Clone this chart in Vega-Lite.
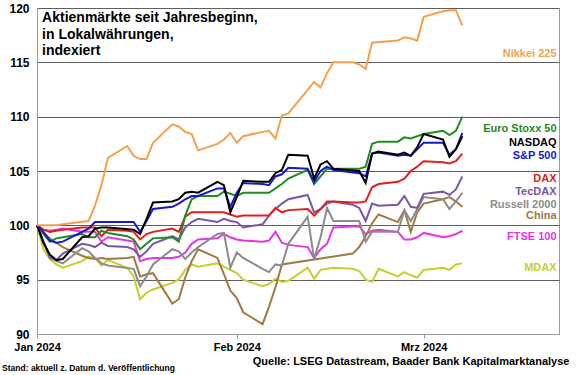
{
  "$schema": "https://vega.github.io/schema/vega-lite/v6.json",
  "width": 522,
  "height": 326,
  "autosize": {"type": "none"},
  "padding": {"left": 37, "top": 8, "right": 21, "bottom": 41},
  "background": "white",
  "config": {
    "font": "Liberation Sans",
    "view": {"stroke": "#9a9a9a", "strokeWidth": 1},
    "text": {"font": "Liberation Sans"}
  },
  "datasets": {
    "series": [
      {"index":"MDAX","date":"2024-01-01","value":100},{"index":"MDAX","date":"2024-01-02","value":97.8},{"index":"MDAX","date":"2024-01-03","value":96.9},{"index":"MDAX","date":"2024-01-04","value":96.4},{"index":"MDAX","date":"2024-01-05","value":96.1},{"index":"MDAX","date":"2024-01-08","value":96.7},{"index":"MDAX","date":"2024-01-09","value":97.1},{"index":"MDAX","date":"2024-01-10","value":97.0},{"index":"MDAX","date":"2024-01-11","value":96.3},{"index":"MDAX","date":"2024-01-12","value":96.8},{"index":"MDAX","date":"2024-01-15","value":96.1},{"index":"MDAX","date":"2024-01-16","value":95.3},{"index":"MDAX","date":"2024-01-17","value":93.2},{"index":"MDAX","date":"2024-01-18","value":93.8},{"index":"MDAX","date":"2024-01-19","value":94.1},{"index":"MDAX","date":"2024-01-22","value":94.7},{"index":"MDAX","date":"2024-01-23","value":95.0},{"index":"MDAX","date":"2024-01-24","value":95.9},{"index":"MDAX","date":"2024-01-25","value":96.4},{"index":"MDAX","date":"2024-01-26","value":96.2},{"index":"MDAX","date":"2024-01-29","value":96.5},{"index":"MDAX","date":"2024-01-30","value":96.2},{"index":"MDAX","date":"2024-01-31","value":95.9},{"index":"MDAX","date":"2024-02-01","value":95.6},{"index":"MDAX","date":"2024-02-02","value":95.0},{"index":"MDAX","date":"2024-02-05","value":94.4},{"index":"MDAX","date":"2024-02-06","value":94.6},{"index":"MDAX","date":"2024-02-07","value":95.1},{"index":"MDAX","date":"2024-02-08","value":94.8},{"index":"MDAX","date":"2024-02-09","value":94.9},{"index":"MDAX","date":"2024-02-12","value":96.1},{"index":"MDAX","date":"2024-02-13","value":95.1},{"index":"MDAX","date":"2024-02-14","value":95.9},{"index":"MDAX","date":"2024-02-15","value":96.0},{"index":"MDAX","date":"2024-02-16","value":96.1},{"index":"MDAX","date":"2024-02-19","value":96.0},{"index":"MDAX","date":"2024-02-20","value":95.8},{"index":"MDAX","date":"2024-02-21","value":95.0},{"index":"MDAX","date":"2024-02-22","value":94.8},{"index":"MDAX","date":"2024-02-23","value":96.0},{"index":"MDAX","date":"2024-02-26","value":95.3},{"index":"MDAX","date":"2024-02-27","value":95.7},{"index":"MDAX","date":"2024-02-28","value":95.4},{"index":"MDAX","date":"2024-02-29","value":95.2},{"index":"MDAX","date":"2024-03-01","value":95.9},{"index":"MDAX","date":"2024-03-04","value":96.1},{"index":"MDAX","date":"2024-03-05","value":95.9},{"index":"MDAX","date":"2024-03-06","value":96.4},{"index":"MDAX","date":"2024-03-07","value":96.5},

      {"index":"FTSE 100","date":"2024-01-01","value":100},{"index":"FTSE 100","date":"2024-01-02","value":99.6},{"index":"FTSE 100","date":"2024-01-03","value":99.5},{"index":"FTSE 100","date":"2024-01-04","value":99.6},{"index":"FTSE 100","date":"2024-01-05","value":99.7},{"index":"FTSE 100","date":"2024-01-08","value":99.4},{"index":"FTSE 100","date":"2024-01-09","value":99.4},{"index":"FTSE 100","date":"2024-01-10","value":99.4},{"index":"FTSE 100","date":"2024-01-11","value":98.5},{"index":"FTSE 100","date":"2024-01-12","value":98.9},{"index":"FTSE 100","date":"2024-01-15","value":98.6},{"index":"FTSE 100","date":"2024-01-16","value":98.5},{"index":"FTSE 100","date":"2024-01-17","value":96.7},{"index":"FTSE 100","date":"2024-01-18","value":96.9},{"index":"FTSE 100","date":"2024-01-19","value":97.0},{"index":"FTSE 100","date":"2024-01-22","value":97.0},{"index":"FTSE 100","date":"2024-01-23","value":97.1},{"index":"FTSE 100","date":"2024-01-24","value":97.5},{"index":"FTSE 100","date":"2024-01-25","value":98.3},{"index":"FTSE 100","date":"2024-01-26","value":98.7},{"index":"FTSE 100","date":"2024-01-29","value":98.8},{"index":"FTSE 100","date":"2024-01-30","value":99.2},{"index":"FTSE 100","date":"2024-01-31","value":98.9},{"index":"FTSE 100","date":"2024-02-01","value":98.7},{"index":"FTSE 100","date":"2024-02-02","value":98.6},{"index":"FTSE 100","date":"2024-02-05","value":98.5},{"index":"FTSE 100","date":"2024-02-06","value":98.6},{"index":"FTSE 100","date":"2024-02-07","value":99.4},{"index":"FTSE 100","date":"2024-02-08","value":98.4},{"index":"FTSE 100","date":"2024-02-09","value":98.2},{"index":"FTSE 100","date":"2024-02-12","value":98.0},{"index":"FTSE 100","date":"2024-02-13","value":97.0},{"index":"FTSE 100","date":"2024-02-14","value":97.8},{"index":"FTSE 100","date":"2024-02-15","value":98.3},{"index":"FTSE 100","date":"2024-02-16","value":99.8},{"index":"FTSE 100","date":"2024-02-19","value":99.9},{"index":"FTSE 100","date":"2024-02-20","value":99.9},{"index":"FTSE 100","date":"2024-02-21","value":99.2},{"index":"FTSE 100","date":"2024-02-22","value":99.5},{"index":"FTSE 100","date":"2024-02-23","value":99.6},{"index":"FTSE 100","date":"2024-02-26","value":99.4},{"index":"FTSE 100","date":"2024-02-27","value":98.7},{"index":"FTSE 100","date":"2024-02-28","value":98.7},{"index":"FTSE 100","date":"2024-02-29","value":98.9},{"index":"FTSE 100","date":"2024-03-01","value":99.3},{"index":"FTSE 100","date":"2024-03-04","value":98.9},{"index":"FTSE 100","date":"2024-03-05","value":99.0},{"index":"FTSE 100","date":"2024-03-06","value":99.2},{"index":"FTSE 100","date":"2024-03-07","value":99.5},

      {"index":"China","date":"2024-01-01","value":100},{"index":"China","date":"2024-01-02","value":99.3},{"index":"China","date":"2024-01-03","value":98.8},{"index":"China","date":"2024-01-04","value":98.4},{"index":"China","date":"2024-01-05","value":98.0},{"index":"China","date":"2024-01-08","value":97.2},{"index":"China","date":"2024-01-09","value":97.0},{"index":"China","date":"2024-01-10","value":96.9},{"index":"China","date":"2024-01-11","value":97.0},{"index":"China","date":"2024-01-12","value":96.9},{"index":"China","date":"2024-01-15","value":97.0},{"index":"China","date":"2024-01-16","value":97.1},{"index":"China","date":"2024-01-17","value":95.3},{"index":"China","date":"2024-01-18","value":95.5},{"index":"China","date":"2024-01-19","value":95.6},{"index":"China","date":"2024-01-22","value":92.8},{"index":"China","date":"2024-01-23","value":93.2},{"index":"China","date":"2024-01-24","value":95.2},{"index":"China","date":"2024-01-25","value":96.7},{"index":"China","date":"2024-01-26","value":97.8},{"index":"China","date":"2024-01-29","value":97.0},{"index":"China","date":"2024-01-30","value":95.5},{"index":"China","date":"2024-01-31","value":94.0},{"index":"China","date":"2024-02-01","value":93.3},{"index":"China","date":"2024-02-02","value":92.0},{"index":"China","date":"2024-02-05","value":90.9},{"index":"China","date":"2024-02-06","value":92.5},{"index":"China","date":"2024-02-07","value":94.3},{"index":"China","date":"2024-02-08","value":96.4},{"index":"China","date":"2024-02-19","value":97.4},{"index":"China","date":"2024-02-20","value":98.0},{"index":"China","date":"2024-02-21","value":99.0},{"index":"China","date":"2024-02-22","value":100.2},{"index":"China","date":"2024-02-23","value":101.0},{"index":"China","date":"2024-02-26","value":100.3},{"index":"China","date":"2024-02-27","value":101.4},{"index":"China","date":"2024-02-28","value":99.4},{"index":"China","date":"2024-02-29","value":101.2},{"index":"China","date":"2024-03-01","value":102.0},{"index":"China","date":"2024-03-04","value":102.4},{"index":"China","date":"2024-03-05","value":102.6},{"index":"China","date":"2024-03-06","value":102.2},{"index":"China","date":"2024-03-07","value":101.7},

      {"index":"Russell 2000","date":"2024-01-01","value":100},{"index":"Russell 2000","date":"2024-01-02","value":98.5},{"index":"Russell 2000","date":"2024-01-03","value":97.1},{"index":"Russell 2000","date":"2024-01-04","value":96.7},{"index":"Russell 2000","date":"2024-01-05","value":96.5},{"index":"Russell 2000","date":"2024-01-08","value":97.9},{"index":"Russell 2000","date":"2024-01-09","value":97.6},{"index":"Russell 2000","date":"2024-01-10","value":97.0},{"index":"Russell 2000","date":"2024-01-11","value":96.5},{"index":"Russell 2000","date":"2024-01-12","value":96.3},{"index":"Russell 2000","date":"2024-01-16","value":96.0},{"index":"Russell 2000","date":"2024-01-17","value":94.4},{"index":"Russell 2000","date":"2024-01-18","value":95.3},{"index":"Russell 2000","date":"2024-01-19","value":96.4},{"index":"Russell 2000","date":"2024-01-22","value":97.8},{"index":"Russell 2000","date":"2024-01-23","value":97.6},{"index":"Russell 2000","date":"2024-01-24","value":96.9},{"index":"Russell 2000","date":"2024-01-25","value":97.5},{"index":"Russell 2000","date":"2024-01-26","value":98.0},{"index":"Russell 2000","date":"2024-01-29","value":99.2},{"index":"Russell 2000","date":"2024-01-30","value":99.3},{"index":"Russell 2000","date":"2024-01-31","value":96.1},{"index":"Russell 2000","date":"2024-02-01","value":97.5},{"index":"Russell 2000","date":"2024-02-02","value":97.0},{"index":"Russell 2000","date":"2024-02-05","value":96.0},{"index":"Russell 2000","date":"2024-02-06","value":95.7},{"index":"Russell 2000","date":"2024-02-07","value":96.4},{"index":"Russell 2000","date":"2024-02-08","value":96.3},{"index":"Russell 2000","date":"2024-02-09","value":98.3},{"index":"Russell 2000","date":"2024-02-12","value":100.8},{"index":"Russell 2000","date":"2024-02-13","value":96.9},{"index":"Russell 2000","date":"2024-02-14","value":98.9},{"index":"Russell 2000","date":"2024-02-15","value":101.6},{"index":"Russell 2000","date":"2024-02-16","value":100.4},{"index":"Russell 2000","date":"2024-02-20","value":100.4},{"index":"Russell 2000","date":"2024-02-21","value":98.5},{"index":"Russell 2000","date":"2024-02-22","value":99.4},{"index":"Russell 2000","date":"2024-02-23","value":99.4},{"index":"Russell 2000","date":"2024-02-26","value":99.4},{"index":"Russell 2000","date":"2024-02-27","value":101.4},{"index":"Russell 2000","date":"2024-02-28","value":100.4},{"index":"Russell 2000","date":"2024-02-29","value":101.5},{"index":"Russell 2000","date":"2024-03-01","value":102.6},{"index":"Russell 2000","date":"2024-03-04","value":102.4},{"index":"Russell 2000","date":"2024-03-05","value":101.5},{"index":"Russell 2000","date":"2024-03-06","value":102.2},{"index":"Russell 2000","date":"2024-03-07","value":103.0},

      {"index":"TecDAX","date":"2024-01-01","value":100},{"index":"TecDAX","date":"2024-01-02","value":98.5},{"index":"TecDAX","date":"2024-01-03","value":97.0},{"index":"TecDAX","date":"2024-01-04","value":96.8},{"index":"TecDAX","date":"2024-01-05","value":97.4},{"index":"TecDAX","date":"2024-01-08","value":98.3},{"index":"TecDAX","date":"2024-01-09","value":98.2},{"index":"TecDAX","date":"2024-01-10","value":98.0},{"index":"TecDAX","date":"2024-01-11","value":98.4},{"index":"TecDAX","date":"2024-01-12","value":98.1},{"index":"TecDAX","date":"2024-01-15","value":98.0},{"index":"TecDAX","date":"2024-01-16","value":97.8},{"index":"TecDAX","date":"2024-01-17","value":97.1},{"index":"TecDAX","date":"2024-01-18","value":97.6},{"index":"TecDAX","date":"2024-01-19","value":98.3},{"index":"TecDAX","date":"2024-01-22","value":99.0},{"index":"TecDAX","date":"2024-01-23","value":98.7},{"index":"TecDAX","date":"2024-01-24","value":99.8},{"index":"TecDAX","date":"2024-01-25","value":100.3},{"index":"TecDAX","date":"2024-01-26","value":100.6},{"index":"TecDAX","date":"2024-01-29","value":100.3},{"index":"TecDAX","date":"2024-01-30","value":100.6},{"index":"TecDAX","date":"2024-01-31","value":100.4},{"index":"TecDAX","date":"2024-02-01","value":100.3},{"index":"TecDAX","date":"2024-02-02","value":99.8},{"index":"TecDAX","date":"2024-02-05","value":100.1},{"index":"TecDAX","date":"2024-02-06","value":100.9},{"index":"TecDAX","date":"2024-02-07","value":101.5},{"index":"TecDAX","date":"2024-02-08","value":102.0},{"index":"TecDAX","date":"2024-02-09","value":102.4},{"index":"TecDAX","date":"2024-02-12","value":102.8},{"index":"TecDAX","date":"2024-02-13","value":101.2},{"index":"TecDAX","date":"2024-02-14","value":101.5},{"index":"TecDAX","date":"2024-02-15","value":102.0},{"index":"TecDAX","date":"2024-02-16","value":102.2},{"index":"TecDAX","date":"2024-02-19","value":101.9},{"index":"TecDAX","date":"2024-02-20","value":101.6},{"index":"TecDAX","date":"2024-02-21","value":100.4},{"index":"TecDAX","date":"2024-02-22","value":102.0},{"index":"TecDAX","date":"2024-02-23","value":101.8},{"index":"TecDAX","date":"2024-02-26","value":101.9},{"index":"TecDAX","date":"2024-02-27","value":102.7},{"index":"TecDAX","date":"2024-02-28","value":101.7},{"index":"TecDAX","date":"2024-02-29","value":101.6},{"index":"TecDAX","date":"2024-03-01","value":102.9},{"index":"TecDAX","date":"2024-03-04","value":103.1},{"index":"TecDAX","date":"2024-03-05","value":102.8},{"index":"TecDAX","date":"2024-03-06","value":103.3},{"index":"TecDAX","date":"2024-03-07","value":104.5},

      {"index":"DAX","date":"2024-01-01","value":100},{"index":"DAX","date":"2024-01-02","value":99.6},{"index":"DAX","date":"2024-01-03","value":99.4},{"index":"DAX","date":"2024-01-04","value":99.5},{"index":"DAX","date":"2024-01-05","value":99.6},{"index":"DAX","date":"2024-01-08","value":99.8},{"index":"DAX","date":"2024-01-09","value":99.8},{"index":"DAX","date":"2024-01-10","value":99.8},{"index":"DAX","date":"2024-01-11","value":99.0},{"index":"DAX","date":"2024-01-12","value":99.6},{"index":"DAX","date":"2024-01-15","value":99.5},{"index":"DAX","date":"2024-01-16","value":99.4},{"index":"DAX","date":"2024-01-17","value":98.7},{"index":"DAX","date":"2024-01-18","value":99.2},{"index":"DAX","date":"2024-01-19","value":99.4},{"index":"DAX","date":"2024-01-22","value":99.7},{"index":"DAX","date":"2024-01-23","value":99.4},{"index":"DAX","date":"2024-01-24","value":100.8},{"index":"DAX","date":"2024-01-25","value":101.2},{"index":"DAX","date":"2024-01-26","value":101.2},{"index":"DAX","date":"2024-01-29","value":101.2},{"index":"DAX","date":"2024-01-30","value":101.2},{"index":"DAX","date":"2024-01-31","value":101.0},{"index":"DAX","date":"2024-02-01","value":100.8},{"index":"DAX","date":"2024-02-02","value":100.9},{"index":"DAX","date":"2024-02-05","value":100.9},{"index":"DAX","date":"2024-02-06","value":100.9},{"index":"DAX","date":"2024-02-07","value":101.6},{"index":"DAX","date":"2024-02-08","value":101.2},{"index":"DAX","date":"2024-02-09","value":101.4},{"index":"DAX","date":"2024-02-12","value":101.5},{"index":"DAX","date":"2024-02-13","value":100.9},{"index":"DAX","date":"2024-02-14","value":101.5},{"index":"DAX","date":"2024-02-15","value":102.2},{"index":"DAX","date":"2024-02-16","value":102.2},{"index":"DAX","date":"2024-02-19","value":102.1},{"index":"DAX","date":"2024-02-20","value":102.1},{"index":"DAX","date":"2024-02-21","value":102.2},{"index":"DAX","date":"2024-02-22","value":103.5},{"index":"DAX","date":"2024-02-23","value":103.8},{"index":"DAX","date":"2024-02-26","value":104.0},{"index":"DAX","date":"2024-02-27","value":104.3},{"index":"DAX","date":"2024-02-28","value":105.0},{"index":"DAX","date":"2024-02-29","value":105.4},{"index":"DAX","date":"2024-03-01","value":105.9},{"index":"DAX","date":"2024-03-04","value":105.8},{"index":"DAX","date":"2024-03-05","value":105.7},{"index":"DAX","date":"2024-03-06","value":105.9},{"index":"DAX","date":"2024-03-07","value":106.6},

      {"index":"Euro Stoxx 50","date":"2024-01-01","value":100},{"index":"Euro Stoxx 50","date":"2024-01-02","value":99.2},{"index":"Euro Stoxx 50","date":"2024-01-03","value":98.5},{"index":"Euro Stoxx 50","date":"2024-01-04","value":98.8},{"index":"Euro Stoxx 50","date":"2024-01-05","value":98.9},{"index":"Euro Stoxx 50","date":"2024-01-08","value":99.2},{"index":"Euro Stoxx 50","date":"2024-01-09","value":98.9},{"index":"Euro Stoxx 50","date":"2024-01-10","value":98.9},{"index":"Euro Stoxx 50","date":"2024-01-11","value":99.5},{"index":"Euro Stoxx 50","date":"2024-01-12","value":99.3},{"index":"Euro Stoxx 50","date":"2024-01-15","value":99.0},{"index":"Euro Stoxx 50","date":"2024-01-16","value":98.7},{"index":"Euro Stoxx 50","date":"2024-01-17","value":97.8},{"index":"Euro Stoxx 50","date":"2024-01-18","value":98.3},{"index":"Euro Stoxx 50","date":"2024-01-19","value":98.8},{"index":"Euro Stoxx 50","date":"2024-01-22","value":98.9},{"index":"Euro Stoxx 50","date":"2024-01-23","value":98.5},{"index":"Euro Stoxx 50","date":"2024-01-24","value":100.9},{"index":"Euro Stoxx 50","date":"2024-01-25","value":102.4},{"index":"Euro Stoxx 50","date":"2024-01-26","value":102.7},{"index":"Euro Stoxx 50","date":"2024-01-29","value":102.7},{"index":"Euro Stoxx 50","date":"2024-01-30","value":103.1},{"index":"Euro Stoxx 50","date":"2024-01-31","value":102.9},{"index":"Euro Stoxx 50","date":"2024-02-01","value":102.7},{"index":"Euro Stoxx 50","date":"2024-02-02","value":103.0},{"index":"Euro Stoxx 50","date":"2024-02-05","value":103.0},{"index":"Euro Stoxx 50","date":"2024-02-06","value":103.0},{"index":"Euro Stoxx 50","date":"2024-02-07","value":103.4},{"index":"Euro Stoxx 50","date":"2024-02-08","value":103.8},{"index":"Euro Stoxx 50","date":"2024-02-09","value":104.3},{"index":"Euro Stoxx 50","date":"2024-02-12","value":105.1},{"index":"Euro Stoxx 50","date":"2024-02-13","value":103.8},{"index":"Euro Stoxx 50","date":"2024-02-14","value":104.5},{"index":"Euro Stoxx 50","date":"2024-02-15","value":105.2},{"index":"Euro Stoxx 50","date":"2024-02-16","value":105.2},{"index":"Euro Stoxx 50","date":"2024-02-19","value":105.2},{"index":"Euro Stoxx 50","date":"2024-02-20","value":105.2},{"index":"Euro Stoxx 50","date":"2024-02-21","value":105.4},{"index":"Euro Stoxx 50","date":"2024-02-22","value":107.5},{"index":"Euro Stoxx 50","date":"2024-02-23","value":107.7},{"index":"Euro Stoxx 50","date":"2024-02-26","value":107.7},{"index":"Euro Stoxx 50","date":"2024-02-27","value":108.1},{"index":"Euro Stoxx 50","date":"2024-02-28","value":108.0},{"index":"Euro Stoxx 50","date":"2024-02-29","value":108.2},{"index":"Euro Stoxx 50","date":"2024-03-01","value":108.4},{"index":"Euro Stoxx 50","date":"2024-03-04","value":108.7},{"index":"Euro Stoxx 50","date":"2024-03-05","value":108.3},{"index":"Euro Stoxx 50","date":"2024-03-06","value":108.7},{"index":"Euro Stoxx 50","date":"2024-03-07","value":110.0},

      {"index":"S&P 500","date":"2024-01-01","value":100},{"index":"S&P 500","date":"2024-01-02","value":99.4},{"index":"S&P 500","date":"2024-01-03","value":98.6},{"index":"S&P 500","date":"2024-01-04","value":98.4},{"index":"S&P 500","date":"2024-01-05","value":98.5},{"index":"S&P 500","date":"2024-01-08","value":99.4},{"index":"S&P 500","date":"2024-01-09","value":99.7},{"index":"S&P 500","date":"2024-01-10","value":100.3},{"index":"S&P 500","date":"2024-01-11","value":100.3},{"index":"S&P 500","date":"2024-01-12","value":100.3},{"index":"S&P 500","date":"2024-01-16","value":100.3},{"index":"S&P 500","date":"2024-01-17","value":99.4},{"index":"S&P 500","date":"2024-01-18","value":100.4},{"index":"S&P 500","date":"2024-01-19","value":101.5},{"index":"S&P 500","date":"2024-01-22","value":101.7},{"index":"S&P 500","date":"2024-01-23","value":102.0},{"index":"S&P 500","date":"2024-01-24","value":102.4},{"index":"S&P 500","date":"2024-01-25","value":102.7},{"index":"S&P 500","date":"2024-01-26","value":102.7},{"index":"S&P 500","date":"2024-01-29","value":103.4},{"index":"S&P 500","date":"2024-01-30","value":103.4},{"index":"S&P 500","date":"2024-01-31","value":101.7},{"index":"S&P 500","date":"2024-02-01","value":103.0},{"index":"S&P 500","date":"2024-02-02","value":103.9},{"index":"S&P 500","date":"2024-02-05","value":103.8},{"index":"S&P 500","date":"2024-02-06","value":103.7},{"index":"S&P 500","date":"2024-02-07","value":104.5},{"index":"S&P 500","date":"2024-02-08","value":104.7},{"index":"S&P 500","date":"2024-02-09","value":105.3},{"index":"S&P 500","date":"2024-02-12","value":105.2},{"index":"S&P 500","date":"2024-02-13","value":104.0},{"index":"S&P 500","date":"2024-02-14","value":105.0},{"index":"S&P 500","date":"2024-02-15","value":105.4},{"index":"S&P 500","date":"2024-02-16","value":105.1},{"index":"S&P 500","date":"2024-02-20","value":104.8},{"index":"S&P 500","date":"2024-02-21","value":104.5},{"index":"S&P 500","date":"2024-02-22","value":106.6},{"index":"S&P 500","date":"2024-02-23","value":106.7},{"index":"S&P 500","date":"2024-02-26","value":106.4},{"index":"S&P 500","date":"2024-02-27","value":106.5},{"index":"S&P 500","date":"2024-02-28","value":106.4},{"index":"S&P 500","date":"2024-02-29","value":107.0},{"index":"S&P 500","date":"2024-03-01","value":107.6},{"index":"S&P 500","date":"2024-03-04","value":107.6},{"index":"S&P 500","date":"2024-03-05","value":106.5},{"index":"S&P 500","date":"2024-03-06","value":107.0},{"index":"S&P 500","date":"2024-03-07","value":108.5},

      {"index":"NASDAQ","date":"2024-01-01","value":100},{"index":"NASDAQ","date":"2024-01-02","value":98.4},{"index":"NASDAQ","date":"2024-01-03","value":97.3},{"index":"NASDAQ","date":"2024-01-04","value":96.8},{"index":"NASDAQ","date":"2024-01-05","value":96.9},{"index":"NASDAQ","date":"2024-01-08","value":98.9},{"index":"NASDAQ","date":"2024-01-09","value":99.0},{"index":"NASDAQ","date":"2024-01-10","value":99.7},{"index":"NASDAQ","date":"2024-01-11","value":99.8},{"index":"NASDAQ","date":"2024-01-12","value":99.8},{"index":"NASDAQ","date":"2024-01-16","value":99.6},{"index":"NASDAQ","date":"2024-01-17","value":99.2},{"index":"NASDAQ","date":"2024-01-18","value":100.6},{"index":"NASDAQ","date":"2024-01-19","value":102.1},{"index":"NASDAQ","date":"2024-01-22","value":102.2},{"index":"NASDAQ","date":"2024-01-23","value":102.4},{"index":"NASDAQ","date":"2024-01-24","value":103.0},{"index":"NASDAQ","date":"2024-01-25","value":103.1},{"index":"NASDAQ","date":"2024-01-26","value":103.0},{"index":"NASDAQ","date":"2024-01-29","value":104.0},{"index":"NASDAQ","date":"2024-01-30","value":103.7},{"index":"NASDAQ","date":"2024-01-31","value":101.2},{"index":"NASDAQ","date":"2024-02-01","value":102.6},{"index":"NASDAQ","date":"2024-02-02","value":104.1},{"index":"NASDAQ","date":"2024-02-05","value":104.0},{"index":"NASDAQ","date":"2024-02-06","value":104.0},{"index":"NASDAQ","date":"2024-02-07","value":104.8},{"index":"NASDAQ","date":"2024-02-08","value":105.1},{"index":"NASDAQ","date":"2024-02-09","value":106.5},{"index":"NASDAQ","date":"2024-02-12","value":106.4},{"index":"NASDAQ","date":"2024-02-13","value":104.3},{"index":"NASDAQ","date":"2024-02-14","value":105.6},{"index":"NASDAQ","date":"2024-02-15","value":105.9},{"index":"NASDAQ","date":"2024-02-16","value":105.2},{"index":"NASDAQ","date":"2024-02-20","value":105.0},{"index":"NASDAQ","date":"2024-02-21","value":103.9},{"index":"NASDAQ","date":"2024-02-22","value":106.6},{"index":"NASDAQ","date":"2024-02-23","value":106.8},{"index":"NASDAQ","date":"2024-02-26","value":106.5},{"index":"NASDAQ","date":"2024-02-27","value":106.7},{"index":"NASDAQ","date":"2024-02-28","value":106.4},{"index":"NASDAQ","date":"2024-02-29","value":107.2},{"index":"NASDAQ","date":"2024-03-01","value":108.4},{"index":"NASDAQ","date":"2024-03-04","value":107.9},{"index":"NASDAQ","date":"2024-03-05","value":106.3},{"index":"NASDAQ","date":"2024-03-06","value":107.0},{"index":"NASDAQ","date":"2024-03-07","value":108.2},

      {"index":"Nikkei 225","date":"2024-01-01","value":100},{"index":"Nikkei 225","date":"2024-01-04","value":100.0},{"index":"Nikkei 225","date":"2024-01-05","value":100.1},{"index":"Nikkei 225","date":"2024-01-09","value":100.4},{"index":"Nikkei 225","date":"2024-01-10","value":101.8},{"index":"Nikkei 225","date":"2024-01-11","value":103.7},{"index":"Nikkei 225","date":"2024-01-12","value":106.2},{"index":"Nikkei 225","date":"2024-01-15","value":107.3},{"index":"Nikkei 225","date":"2024-01-16","value":106.4},{"index":"Nikkei 225","date":"2024-01-17","value":106.1},{"index":"Nikkei 225","date":"2024-01-18","value":106.1},{"index":"Nikkei 225","date":"2024-01-19","value":107.6},{"index":"Nikkei 225","date":"2024-01-22","value":109.3},{"index":"Nikkei 225","date":"2024-01-23","value":109.1},{"index":"Nikkei 225","date":"2024-01-24","value":108.6},{"index":"Nikkei 225","date":"2024-01-25","value":108.4},{"index":"Nikkei 225","date":"2024-01-26","value":106.9},{"index":"Nikkei 225","date":"2024-01-29","value":107.5},{"index":"Nikkei 225","date":"2024-01-30","value":107.9},{"index":"Nikkei 225","date":"2024-01-31","value":108.5},{"index":"Nikkei 225","date":"2024-02-01","value":107.6},{"index":"Nikkei 225","date":"2024-02-02","value":108.2},{"index":"Nikkei 225","date":"2024-02-05","value":108.6},{"index":"Nikkei 225","date":"2024-02-06","value":108.7},{"index":"Nikkei 225","date":"2024-02-07","value":108.0},{"index":"Nikkei 225","date":"2024-02-08","value":110.1},{"index":"Nikkei 225","date":"2024-02-09","value":110.3},{"index":"Nikkei 225","date":"2024-02-13","value":113.2},{"index":"Nikkei 225","date":"2024-02-14","value":112.7},{"index":"Nikkei 225","date":"2024-02-15","value":114.0},{"index":"Nikkei 225","date":"2024-02-16","value":115.0},{"index":"Nikkei 225","date":"2024-02-19","value":115.0},{"index":"Nikkei 225","date":"2024-02-20","value":114.8},{"index":"Nikkei 225","date":"2024-02-21","value":114.4},{"index":"Nikkei 225","date":"2024-02-22","value":116.8},{"index":"Nikkei 225","date":"2024-02-26","value":117.0},{"index":"Nikkei 225","date":"2024-02-27","value":117.3},{"index":"Nikkei 225","date":"2024-02-28","value":117.2},{"index":"Nikkei 225","date":"2024-02-29","value":117.0},{"index":"Nikkei 225","date":"2024-03-01","value":119.2},{"index":"Nikkei 225","date":"2024-03-04","value":119.7},{"index":"Nikkei 225","date":"2024-03-05","value":119.8},{"index":"Nikkei 225","date":"2024-03-06","value":119.8},{"index":"Nikkei 225","date":"2024-03-07","value":118.4}
    ],
    "labels": [
      {"index":"Nikkei 225","pos":115.8},
      {"index":"Euro Stoxx 50","pos":108.9},
      {"index":"NASDAQ","pos":107.6},
      {"index":"S&P 500","pos":106.35},
      {"index":"DAX","pos":104.3},
      {"index":"TecDAX","pos":103.1},
      {"index":"Russell 2000","pos":101.9},
      {"index":"China","pos":100.85},
      {"index":"FTSE 100","pos":98.9},
      {"index":"MDAX","pos":96.1}
    ],
    "notes": [
      {"kind":"title","text":["Aktienmärkte seit Jahresbeginn,","in Lokalwährungen,","indexiert"]},
      {"kind":"quelle","text":"Quelle: LSEG Datastream, Baader Bank Kapitalmarktanalyse"},
      {"kind":"stand","text":"Stand: aktuell z. Datum d. Veröffentlichung"}
    ]
  },
  "layer": [
    {
      "data": {"name": "series"},
      "mark": {"type": "line", "strokeWidth": 2, "opacity": 0},
      "encoding": {
        "x": {
          "field": "date", "type": "temporal",
          "scale": {"type": "utc", "domain": [{"year":2024,"month":1,"date":1,"utc":true},{"year":2024,"month":3,"date":22,"utc":true}]},
          "axis": {
            "title": null,
            "values": [{"year":2024,"month":1,"date":1,"utc":true},{"year":2024,"month":2,"date":1,"utc":true},{"year":2024,"month":3,"date":1,"utc":true}],
            "labelExpr": "replace(utcFormat(datum.value, '%b %Y'), 'Mar', 'Mrz')",
            "grid": false,
            "domainColor": "#9a9a9a",
            "tickColor": "#9a9a9a",
            "tickSize": 4,
            "labelFontSize": 11,
            "labelFontWeight": "bold",
            "labelColor": "#000000",
            "labelPadding": 3,
            "labelFlush": false,
            "labelOverlap": false
          }
        },
        "y": {
          "field": "value", "type": "quantitative",
          "scale": {"domain": [90, 120], "nice": false, "zero": false},
          "axis": {
            "title": null,
            "values": [90, 95, 100, 105, 110, 115, 120],
            "grid": true,
            "gridColor": {"condition": {"test": "datum.value === 90", "value": "#9a9a9a"}, "value": "#5f5f5f"},
            "gridWidth": 1,
            "ticks": false,
            "domainColor": "#9a9a9a",
            "labelFontSize": 12,
            "labelFontWeight": "bold",
            "labelColor": "#000000",
            "labelPadding": 8
          }
        }
      }
    },
    {
      "mark": {"type": "rule", "color": "#000000", "strokeWidth": 2.5},
      "encoding": {"y": {"datum": 100, "type": "quantitative"}}
    },
    {
      "data": {"name": "series"},
      "mark": {"type": "line", "strokeWidth": 2},
      "encoding": {
        "x": {"field": "date", "type": "temporal"},
        "y": {"field": "value", "type": "quantitative"},
        "color": {
          "field": "index", "type": "nominal", "legend": null,
          "scale": {
            "domain": ["Nikkei 225","Euro Stoxx 50","NASDAQ","S&P 500","DAX","TecDAX","Russell 2000","China","FTSE 100","MDAX"],
            "range": ["#F7A04B","#1E8C23","#000000","#1818CC","#E3211C","#7A55AA","#8C8C8C","#A07A45","#E535E5","#C8CE2E"]
          }
        }
      }
    },
    {
      "data": {"name": "labels"},
      "mark": {"type": "text", "align": "right", "baseline": "middle", "fontSize": 11, "fontWeight": "bold"},
      "encoding": {
        "x": {"datum": {"year":2024,"month":3,"date":21,"hours":15,"utc":true}, "type": "temporal"},
        "y": {"field": "pos", "type": "quantitative"},
        "text": {"field": "index"},
        "color": {"field": "index", "type": "nominal", "legend": null}
      }
    },
    {
      "data": {"name": "notes"},
      "transform": [{"filter": "datum.kind === 'title'"}],
      "mark": {"type": "text", "align": "left", "baseline": "alphabetic", "fontSize": 14, "fontWeight": "bold", "lineHeight": 16.5, "color": "#000000"},
      "encoding": {
        "x": {"datum": {"year":2024,"month":1,"date":1,"hours":19,"utc":true}, "type": "temporal"},
        "y": {"datum": 118.7, "type": "quantitative"},
        "text": {"field": "text"}
      }
    },
    {
      "data": {"name": "notes"},
      "transform": [{"filter": "datum.kind === 'quelle'"}],
      "mark": {"type": "text", "align": "right", "baseline": "middle", "fontSize": 11, "fontWeight": "bold", "color": "#000000"},
      "encoding": {
        "x": {"datum": {"year":2024,"month":3,"date":23,"hours":15,"utc":true}, "type": "temporal"},
        "y": {"datum": 87.4, "type": "quantitative"},
        "text": {"field": "text"}
      }
    },
    {
      "data": {"name": "notes"},
      "transform": [{"filter": "datum.kind === 'stand'"}],
      "mark": {"type": "text", "align": "left", "baseline": "middle", "fontSize": 8.5, "fontWeight": "bold", "color": "#000000"},
      "encoding": {
        "x": {"datum": {"year":2023,"month":12,"date":26,"hours":14,"utc":true}, "type": "temporal"},
        "y": {"datum": 86.84, "type": "quantitative"},
        "text": {"field": "text"}
      }
    }
  ]
}
